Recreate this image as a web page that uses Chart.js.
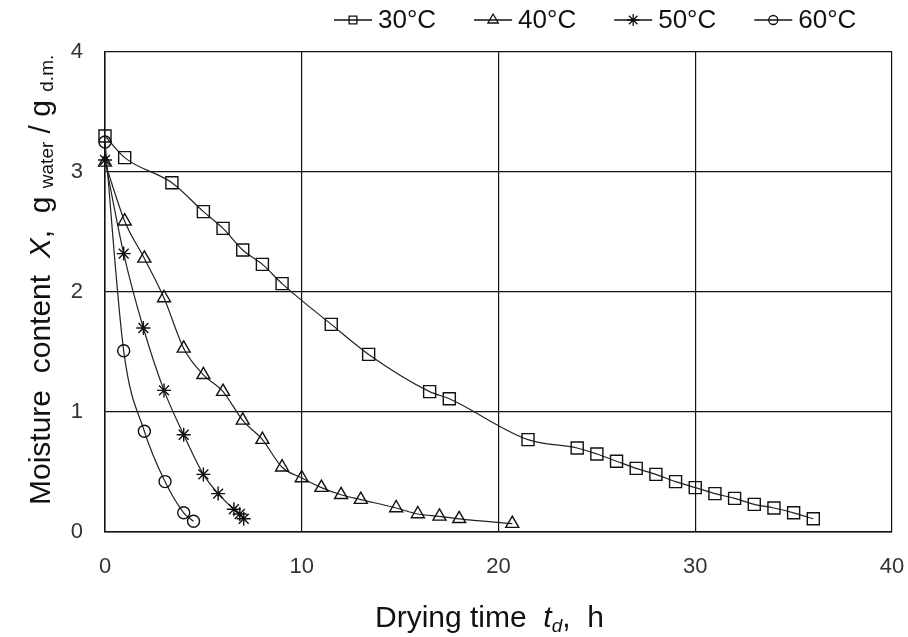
<!DOCTYPE html>
<html>
<head>
<meta charset="utf-8">
<title>Drying curves</title>
<script src="https://cdn.jsdelivr.net/npm/chart.js@4.4.1/dist/chart.umd.min.js"></script>
<style>
	body { margin: 0; background: #fff; }
	#wrap { width: 908px; height: 637px; }
</style>
</head>
<body>
<div id="wrap"><canvas id="drying_chart" width="908" height="637"></canvas></div>
<script>
// series labels
const temp_labels = ["30°C", "40°C", "50°C", "60°C"];

// drying time (h) and moisture content (g water / g d.m.)
const time_30 = [0, 1, 3.4, 5, 6, 7, 8, 9, 11.5, 13.4, 16.5, 17.5, 21.5, 24, 25, 26, 27, 28, 29, 30, 31, 32, 33, 34, 35, 36];
const moist_30 = [3.30, 3.12, 2.91, 2.67, 2.53, 2.35, 2.23, 2.07, 1.73, 1.48, 1.17, 1.11, 0.77, 0.70, 0.65, 0.59, 0.53, 0.48, 0.42, 0.37, 0.32, 0.28, 0.23, 0.20, 0.16, 0.11];

const time_40 = [0, 1, 2, 3, 4, 5, 6, 7, 8, 9, 10, 11, 12, 13, 14.8, 15.9, 17, 18, 20.7];
const moist_40 = [3.08, 2.59, 2.28, 1.95, 1.53, 1.31, 1.17, 0.93, 0.77, 0.54, 0.45, 0.37, 0.31, 0.27, 0.20, 0.15, 0.13, 0.11, 0.07];

const time_50 = [0, 0.95, 1.95, 3, 4, 5, 5.75, 6.55, 6.85, 7.05];
const moist_50 = [3.10, 2.32, 1.70, 1.18, 0.81, 0.48, 0.32, 0.19, 0.15, 0.11];

const time_60 = [0, 0.95, 2, 3.05, 4, 4.5];
const moist_60 = [3.25, 1.51, 0.84, 0.42, 0.16, 0.09];

// axis ticks
const x_ticks = [0, 10, 20, 30, 40];
const y_ticks = [0, 1, 2, 3, 4];

const font_name = "'Liberation Sans', Arial, sans-serif";

function toPoints(xs, ys) {
	return xs.map((x, i) => ({ x: x, y: ys[i] }));
}

const marker_styles = ["rect", "triangle", "star", "circle"];
const marker_sizes = [8.5, 7.5, 7, 6];
const legend_sizes = [5.5, 6, 6, 4.5];

const series = [
	toPoints(time_30, moist_30),
	toPoints(time_40, moist_40),
	toPoints(time_50, moist_50),
	toPoints(time_60, moist_60),
];

// draw a run of text pieces (with sub scripts / italics) from x along baseline
function drawParts(ctx, parts, x, y) {
	parts.forEach((p) => {
		ctx.font = (p.italic ? "italic " : "") + p.size + "px " + font_name;
		ctx.fillText(p.text, x, y + (p.dy || 0));
		x += ctx.measureText(p.text).width;
	});
}

const y_title = [
	{ text: "Moisture  content  ", size: 30 },
	{ text: "X", size: 30, italic: true },
	{ text: ",  g ", size: 30 },
	{ text: "water", size: 19, dy: 3 },
	{ text: " / g ", size: 30 },
	{ text: "d.m.", size: 19, dy: 3 },
];
const x_title = [
	{ text: "Drying time  ", size: 30 },
	{ text: "t", size: 30, italic: true },
	{ text: "d", size: 19, italic: true, dy: 5 },
	{ text: ",  h", size: 30 },
];

const extras_plugin = {
	id: "extras",
	afterDraw(chart) {
		const ctx = chart.ctx;
		ctx.save();
		ctx.fillStyle = "#111";
		ctx.textAlign = "left";
		ctx.textBaseline = "alphabetic";

		// x title
		drawParts(ctx, x_title, 375, 627);

		// y title, rotated
		ctx.save();
		ctx.translate(50, 505);
		ctx.rotate(-Math.PI / 2);
		drawParts(ctx, y_title, 0, 0);
		ctx.restore();

		// legend: line with marker, then label
		let lx = 334;
		const ly = 20;
		ctx.textBaseline = "middle";
		ctx.font = "26px " + font_name;
		chart.data.datasets.forEach((ds, i) => {
			ctx.strokeStyle = "#111";
			ctx.lineWidth = 1.3;
			ctx.beginPath();
			ctx.moveTo(lx, ly);
			ctx.lineTo(lx + 38, ly);
			ctx.stroke();
			ctx.fillStyle = "rgba(0,0,0,0)";
			Chart.helpers.drawPoint(ctx, {
				pointStyle: ds.pointStyle,
				radius: legend_sizes[i],
				borderWidth: 1.3,
				rotation: 0,
			}, lx + 19, ly);
			ctx.fillStyle = "#111";
			ctx.fillText(ds.label, lx + 44, ly + 1);
			lx += 44 + ctx.measureText(ds.label).width + 38;
		});
		ctx.restore();
	},
};

const ctx = document.getElementById("drying_chart").getContext("2d");

const my_chart = new Chart(ctx, {
	type: "scatter",
	data: {
		datasets: series.map((pts, i) => ({
			label: temp_labels[i],
			data: pts,
			showLine: true,
			cubicInterpolationMode: "monotone",
			borderColor: "#222",
			borderWidth: 1.2,
			pointStyle: marker_styles[i],
			pointRadius: marker_sizes[i],
			pointBorderColor: "#111",
			pointBorderWidth: 1.4,
			pointBackgroundColor: "rgba(0,0,0,0)",
			clip: false,
		})),
	},
	options: {
		responsive: false,
		animation: false,
		layout: {
			padding: { top: 52, right: 16, left: 0, bottom: 0 },
		},
		plugins: {
			legend: { display: false },
			tooltip: { enabled: false },
		},
		scales: {
			x: {
				type: "linear",
				min: x_ticks[0],
				max: x_ticks[x_ticks.length - 1],
				afterFit: (scale) => {
					scale.height = 105;
					scale.paddingLeft = 0;
					scale.paddingRight = 0;
				},
				ticks: {
					stepSize: x_ticks[1] - x_ticks[0],
					padding: 22,
					color: "#333",
					font: { family: font_name, size: 22 },
				},
				grid: { color: "#111", lineWidth: 1.2, drawTicks: false },
				border: { color: "#111", width: 1.5 },
			},
			y: {
				type: "linear",
				min: y_ticks[0],
				max: y_ticks[y_ticks.length - 1],
				afterFit: (scale) => {
					scale.width = 105;
					scale.paddingTop = 0;
					scale.paddingBottom = 0;
				},
				ticks: {
					stepSize: y_ticks[1] - y_ticks[0],
					padding: 22,
					color: "#333",
					font: { family: font_name, size: 22 },
				},
				grid: { color: "#111", lineWidth: 1.2, drawTicks: false },
				border: { color: "#111", width: 1.5 },
			},
		},
	},
	plugins: [extras_plugin],
});
</script>
</body>
</html>
